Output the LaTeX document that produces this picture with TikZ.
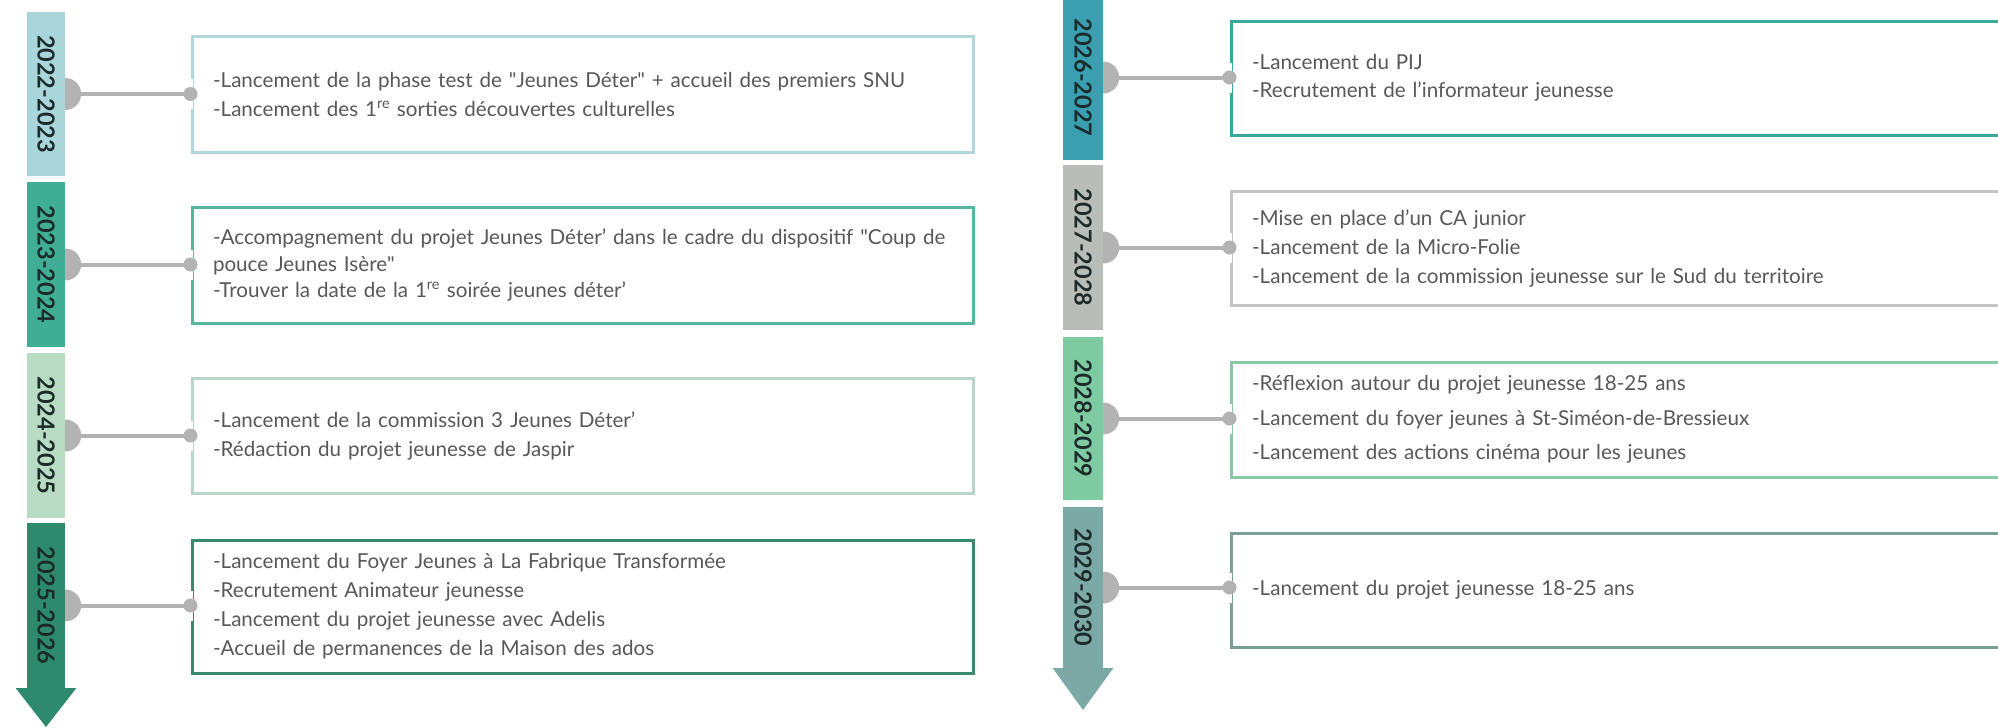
\documentclass[tikz,border=0pt]{standalone}
\usepackage{fontspec}
\setmainfont{Lato}
\usepackage{graphicx}
\definecolor{yeartxt}{HTML}{1C2A2A}
\definecolor{bodytxt}{HTML}{585858}
\definecolor{conngray}{HTML}{B3B3B3}
\definecolor{barA}{HTML}{A9D6DA}
\definecolor{barB}{HTML}{3FAE94}
\definecolor{barC}{HTML}{B7DCC3}
\definecolor{barD}{HTML}{2E8A6C}
\definecolor{barE}{HTML}{3A9FB0}
\definecolor{barF}{HTML}{B9BDB8}
\definecolor{barG}{HTML}{7ECBA2}
\definecolor{barH}{HTML}{7BA9A6}
\definecolor{bdA}{HTML}{B2D6DC}
\definecolor{bdB}{HTML}{55B89C}
\definecolor{bdC}{HTML}{B8D6C8}
\definecolor{bdD}{HTML}{3A8A70}
\definecolor{bdE}{HTML}{3AA89C}
\definecolor{bdF}{HTML}{C4C4C4}
\definecolor{bdG}{HTML}{88C8A8}
\definecolor{bdH}{HTML}{7A9E98}
\begin{document}
\begin{tikzpicture}[x=1pt,y=-1pt,
  seg/.style={rectangle, inner sep=0pt, font=\fontsize{23.5}{23.5}\selectfont\bfseries, text=yeartxt},
  lseg/.style={seg, minimum width=38pt},
  rseg/.style={seg, minimum width=40pt},
  tbox/.style={rectangle, draw, line width=3pt, fill=white, inner xsep=21pt, inner ysep=0pt, align=left, text=bodytxt},
  lbox/.style={tbox, minimum width=781pt, text width=739pt},
  rbox/.style={tbox, minimum width=800pt, text width=758pt},
  conn/.style={draw=conngray, line width=4pt},
  dotn/.style={circle, fill=conngray, inner sep=0pt, minimum size=14pt},
  gapline/.style={draw=white, line width=5pt},
  bump/.style={fill=conngray}
]
\clip (0,0) rectangle (1998,728);
\fill[white] (0,0) rectangle (1998,728);

% ---- left bar
\node[lseg, fill=barA, minimum height=164pt] (s1) at (46,94) {\rotatebox{-90}{2022-2023}};
\node[lseg, fill=barB, minimum height=165pt] (s2) at (46,264.5) {\rotatebox{-90}{2023-2024}};
\node[lseg, fill=barC, minimum height=165pt] (s3) at (46,435.5) {\rotatebox{-90}{2024-2025}};
\node[lseg, fill=barD, minimum height=165pt] (s4) at (46,605.5) {\rotatebox{-90}{2025-2026}};
\fill[barD] (s4.south west) -- ++(-11,0) -- (46,727) -- ([xshift=11pt]s4.south east) -- cycle;

% ---- right bar
\node[rseg, fill=barE, minimum height=165pt] (r1) at (1083,77.5) {\rotatebox{-90}{2026-2027}};
\node[rseg, fill=barF, minimum height=165pt] (r2) at (1083,247.5) {\rotatebox{-90}{2027-2028}};
\node[rseg, fill=barG, minimum height=163pt] (r3) at (1083,418.5) {\rotatebox{-90}{2028-2029}};
\node[rseg, fill=barH, minimum height=161pt] (r4) at (1083,587.5) {\rotatebox{-90}{2029-2030}};
\fill[barH] (r4.south west) -- ++(-10,0) -- (1083,710) -- ([xshift=10pt]r4.south east) -- cycle;

% ---- left boxes
\node[lbox, draw=bdA, minimum height=116pt, font=\fontsize{20.6}{29}\selectfont] (b1) at (582.5,94)
 {-Lancement de la phase test de \textquotedbl Jeunes Déter\textquotedbl{} + accueil des premiers SNU\\
  -Lancement des 1\textsuperscript{re} sorties découvertes culturelles};
\node[lbox, draw=bdB, minimum height=116pt, font=\fontsize{20.6}{26.5}\selectfont] (b2) at (582.5,265)
 {-Accompagnement du projet Jeunes Déter' dans le cadre du dispositif \textquotedbl Coup de\\
  pouce Jeunes Isère\textquotedbl\\
  -Trouver la date de la 1\textsuperscript{re} soirée jeunes déter'};
\node[lbox, draw=bdC, minimum height=115pt, font=\fontsize{20.6}{29}\selectfont] (b3) at (582.5,435.5)
 {-Lancement de la commission 3 Jeunes Déter'\\
  -Rédaction du projet jeunesse de Jaspir};
\node[lbox, draw=bdD, minimum height=133pt, font=\fontsize{20.6}{29}\selectfont] (b4) at (582.5,606.5)
 {-Lancement du Foyer Jeunes à La Fabrique Transformée\\
  -Recrutement Animateur jeunesse\\
  -Lancement du projet jeunesse avec Adelis\\
  -Accueil de permanences de la Maison des ados};

% ---- right boxes
\node[rbox, draw=bdE, minimum height=114pt, font=\fontsize{20.6}{28}\selectfont] (c1) at (1631,78)
 {-Lancement du PIJ\\
  -Recrutement de l'informateur jeunesse};
\node[rbox, draw=bdF, minimum height=114pt, font=\fontsize{20.6}{29}\selectfont] (c2) at (1631,248)
 {-Mise en place d'un CA junior\\
  -Lancement de la Micro-Folie\\
  -Lancement de la commission jeunesse sur le Sud du territoire};
\node[rbox, draw=bdG, minimum height=115pt, font=\fontsize{20.6}{34.5}\selectfont] (c3) at (1631,419.5)
 {-Réflexion autour du projet jeunesse 18-25 ans\\
  -Lancement du foyer jeunes à St-Siméon-de-Bressieux\\
  -Lancement des actions cinéma pour les jeunes};
\node[rbox, draw=bdH, minimum height=114pt, font=\fontsize{20.6}{29}\selectfont] (c4) at (1631,590)
 {-Lancement du projet jeunesse 18-25 ans};

% ---- connectors
\foreach \s/\b in {s1/b1,s2/b2,s3/b3,s4/b4,r1/c1,r2/c2,r3/c3,r4/c4}{
  \coordinate (end-\b) at (\b.west |- \s.east);
  \draw[gapline] ([yshift=-15pt]end-\b) -- ([yshift=15pt]end-\b);
  \fill[bump] ([yshift=16pt]\s.east) arc[start angle=90, end angle=-90, radius=16pt] -- cycle;
  \draw[conn] (\s.east) -- (end-\b);
  \node[dotn] at (end-\b) {};
}
\end{tikzpicture}
\end{document}
